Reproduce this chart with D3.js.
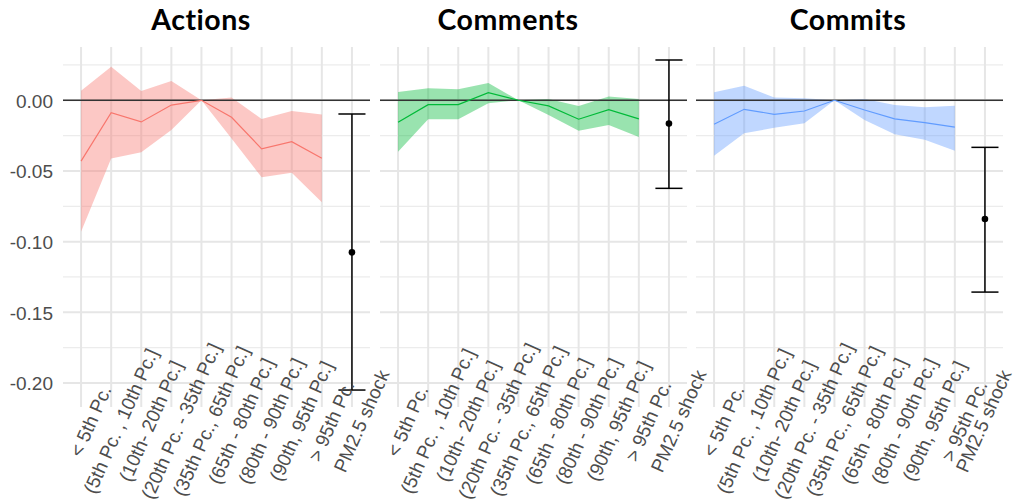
<!DOCTYPE html>
<html>
<head>
<meta charset="utf-8">
<script src="https://d3js.org/d3.v7.min.js"></script>
<style>
  body { margin: 0; background: #fff; }
  .tick-label { font-family: "Liberation Sans", Arial, sans-serif; font-size: 19px; fill: #4d4d4d; }
  .facet-title { font-family: Lato, "Open Sans", sans-serif; font-weight: 700; font-size: 28.5px; fill: #000; letter-spacing: 0.5px; }
</style>
</head>
<body>
<svg width="1017" height="504"></svg>
<script>
// Categories on the x axis (the last one is the pooled shock estimate)
var categories = ['< 5th Pc.', '(5th Pc. , 10th Pc.]', '(10th- 20th Pc.]', '(20th Pc. - 35th Pc.]',
    '(35th Pc., 65th Pc.]', '(65th - 80th Pc.]', '(80th - 90th Pc.]', '(90th, 95th Pc.]',
    '> 95th Pc.', 'PM2.5 shock'];
var yTicks = [0, -0.05, -0.10, -0.15, -0.20];
var yMinorTicks = [0.025, -0.025, -0.075, -0.125, -0.175];

var panelNames = ['Actions', 'Comments', 'Commits'];
var panelColors = ['#F8766D', '#00BA38', '#619CFF'];

// binned estimates with confidence band (first nine categories)
var actionsEst = [-0.043, -0.0088, -0.0153, -0.0034, 0, -0.012, -0.0344, -0.0293, -0.041];
var actionsLow = [-0.093, -0.0412, -0.0368, -0.021, 0, -0.027, -0.0545, -0.0512, -0.0722];
var actionsHigh = [0.0068, 0.0238, 0.0066, 0.0137, 0, 0.002, -0.0132, -0.0076, -0.0101];

var commentsEst = [-0.0156, -0.0031, -0.0031, 0.0054, 0, -0.004, -0.0134, -0.0066, -0.0132];
var commentsLow = [-0.0364, -0.0134, -0.0134, -0.0021, 0, -0.0104, -0.0215, -0.0175, -0.026];
var commentsHigh = [0.0059, 0.0085, 0.0078, 0.0122, 0, 0.0009, -0.004, 0.0026, 0.0009];

var commitsEst = [-0.017, -0.0064, -0.0099, -0.0076, 0, -0.0069, -0.0132, -0.0158, -0.019];
var commitsLow = [-0.0392, -0.0234, -0.0194, -0.0163, 0, -0.014, -0.024, -0.028, -0.0357];
var commitsHigh = [0.0057, 0.0103, 0.0019, 0.0014, 0, 0.0009, -0.0033, -0.005, -0.0038];

// PM2.5 shock: [estimate, lower, upper]
var actionsShock = [-0.1076, -0.205, -0.0097];
var commentsShock = [-0.0165, -0.0623, 0.0285];
var commitsShock = [-0.084, -0.1357, -0.0333];

var panelData = [
    {est: actionsEst, low: actionsLow, high: actionsHigh, shock: actionsShock},
    {est: commentsEst, low: commentsLow, high: commentsHigh, shock: commentsShock},
    {est: commitsEst, low: commitsLow, high: commitsHigh, shock: commitsShock}
];

var svg = d3.select('svg');

// layout of the three facets
var panelLeft = [63, 380, 696];
var panelWidth = 307;
var panelTop = 47, panelBottom = 407;
var titleX = [201, 508, 848];

var yScale = d3.scaleLinear()
    .domain([-0.217, 0.0377])
    .range([panelBottom, panelTop]);

panelNames.forEach(function(name, p) {
    var d = panelData[p];
    var color = panelColors[p];

    var xScale = d3.scalePoint()
        .domain(categories)
        .range([panelLeft[p], panelLeft[p] + panelWidth])
        .padding(0.6);
    var step = xScale.step();

    var g = svg.append('g');

    // minor + major horizontal grid
    g.selectAll('.minor')
        .data(yMinorTicks)
        .enter().append('line')
        .attr('x1', panelLeft[p]).attr('x2', panelLeft[p] + panelWidth)
        .attr('y1', function(v) { return yScale(v); })
        .attr('y2', function(v) { return yScale(v); })
        .attr('stroke', '#ececec').attr('stroke-width', 1.3);
    g.selectAll('.major')
        .data(yTicks)
        .enter().append('line')
        .attr('x1', panelLeft[p]).attr('x2', panelLeft[p] + panelWidth)
        .attr('y1', function(v) { return yScale(v); })
        .attr('y2', function(v) { return yScale(v); })
        .attr('stroke', '#e6e6e6').attr('stroke-width', 2);
    // vertical grid
    g.selectAll('.vgrid')
        .data(categories)
        .enter().append('line')
        .attr('x1', function(c) { return xScale(c); })
        .attr('x2', function(c) { return xScale(c); })
        .attr('y1', panelTop).attr('y2', panelBottom)
        .attr('stroke', '#e6e6e6').attr('stroke-width', 2);

    var bins = categories.slice(0, 9).map(function(c, i) {
        return {cat: c, est: d.est[i], low: d.low[i], high: d.high[i]};
    });

    // confidence ribbon
    var area = d3.area()
        .x(function(b) { return xScale(b.cat); })
        .y0(function(b) { return yScale(b.low); })
        .y1(function(b) { return yScale(b.high); });
    g.append('path')
        .datum(bins)
        .attr('d', area)
        .attr('fill', color)
        .attr('fill-opacity', 0.4);

    // zero line
    g.append('line')
        .attr('x1', panelLeft[p]).attr('x2', panelLeft[p] + panelWidth)
        .attr('y1', yScale(0)).attr('y2', yScale(0))
        .attr('stroke', '#333').attr('stroke-width', 1.5);

    var line = d3.line()
        .x(function(b) { return xScale(b.cat); })
        .y(function(b) { return yScale(b.est); });
    g.append('path')
        .datum(bins)
        .attr('d', line)
        .attr('fill', 'none')
        .attr('stroke', color)
        .attr('stroke-width', 1.2);

    // shock estimate with error bar
    var sx = xScale('PM2.5 shock');
    var half = step * 0.45;
    g.append('line')
        .attr('x1', sx).attr('x2', sx)
        .attr('y1', yScale(d.shock[1])).attr('y2', yScale(d.shock[2]))
        .attr('stroke', '#000').attr('stroke-width', 1.5);
    [d.shock[1], d.shock[2]].forEach(function(v) {
        g.append('line')
            .attr('x1', sx - half).attr('x2', sx + half)
            .attr('y1', yScale(v)).attr('y2', yScale(v))
            .attr('stroke', '#000').attr('stroke-width', 1.5);
    });
    g.append('circle')
        .attr('cx', sx).attr('cy', yScale(d.shock[0]))
        .attr('r', 3.3).attr('fill', '#000');

    // rotated x labels (last one pulled in a bit so it stays on the page)
    var lastPanel = p === panelNames.length - 1;
    g.selectAll('.xlab')
        .data(categories)
        .enter().append('text')
        .attr('class', 'tick-label')
        .attr('text-anchor', 'middle')
        .attr('dy', '0.35em')
        .attr('transform', function(c, i) {
            var off = (lastPanel && i === categories.length - 1) ? -1.5 : 9.5;
            return 'translate(' + [xScale(c) + off, 421] + ') rotate(-66)';
        })
        .text(function(c) { return c; });

    // title
    svg.append('text')
        .attr('class', 'facet-title')
        .attr('x', titleX[p])
        .attr('y', 30)
        .attr('text-anchor', 'middle')
        .text(name);
});

// y axis labels only on the first facet
svg.selectAll('.ylab')
    .data(yTicks)
    .enter().append('text')
    .attr('class', 'tick-label')
    .attr('x', 53)
    .attr('y', function(v) { return yScale(v); })
    .attr('dy', '0.38em')
    .attr('text-anchor', 'end')
    .text(function(v) { return d3.format('.2f')(v).replace('−', '-'); });
</script>
</body>
</html>
